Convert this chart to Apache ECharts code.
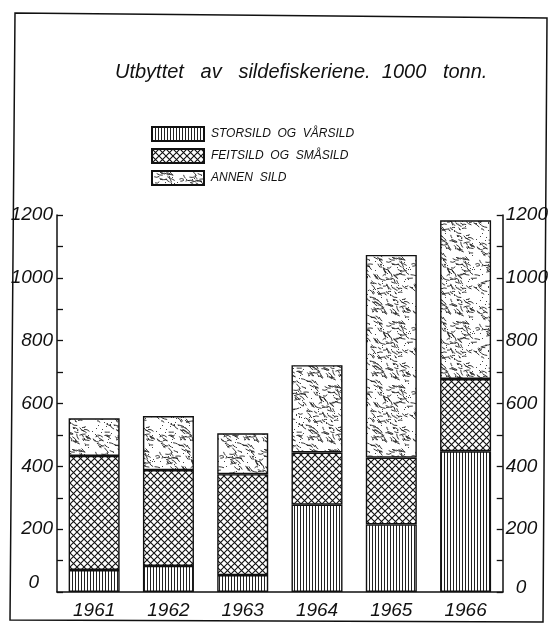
<!DOCTYPE html>
<html>
<head>
<meta charset="utf-8">
<script src="https://cdn.jsdelivr.net/npm/echarts@6/dist/echarts.min.js"></script>
<style>
  html, body { margin: 0; padding: 0; background: #fff; }
  #main { width: 551px; height: 624px; }
</style>
</head>
<body>
<div id="main"></div>
<script>
// 1000 tonn
const years = ['1961', '1962', '1963', '1964', '1965', '1966'];
const storsild = [70, 83, 54, 278, 215, 448];
const feitsild = [363, 305, 321, 166, 213, 230];
const annenSild = [120, 172, 130, 278, 645, 505];
const seriesNames = ['STORSILD  OG  VÅRSILD', 'FEITSILD  OG  SMÅSILD', 'ANNEN  SILD'];

const FONT = '"Liberation Sans", Arial, sans-serif';

// hatch: vertical lines
function stripePattern() {
  let c = document.createElement('canvas');
  c.width = 3; c.height = 8;
  let g = c.getContext('2d');
  g.fillStyle = '#fff';
  g.fillRect(0, 0, 3, 8);
  g.fillStyle = '#222';
  g.fillRect(0, 0, 1, 8);
  return c;
}

// cross hatch (diamonds)
function crossPattern() {
  let s = 7;
  let c = document.createElement('canvas');
  c.width = s; c.height = s;
  let g = c.getContext('2d');
  g.fillStyle = '#fff';
  g.fillRect(0, 0, s, s);
  g.strokeStyle = '#111';
  g.lineWidth = 1.1;
  g.beginPath();
  g.moveTo(-1, -1); g.lineTo(s + 1, s + 1);
  g.moveTo(s + 1, -1); g.lineTo(-1, s + 1);
  g.stroke();
  return c;
}

// short wiggly dashes, seeded so it is the same every time
function wigglePattern() {
  let s = 64;
  let c = document.createElement('canvas');
  c.width = s; c.height = s;
  let g = c.getContext('2d');
  g.fillStyle = '#fff';
  g.fillRect(0, 0, s, s);
  let seed = 98765;
  let rnd = function () {
    seed = (seed * 1103515245 + 12345) % 2147483648;
    return seed / 2147483648;
  };
  g.strokeStyle = '#222';
  g.lineWidth = 0.9;
  g.lineCap = 'round';
  for (let i = 0; i < 170; i++) {
    let x = rnd() * s, y = rnd() * s;
    let a = 0.5 + (rnd() - 0.5) * 1.6;
    let len = 2.5 + rnd() * 3.5;
    let dx = Math.cos(a) * len, dy = Math.sin(a) * len;
    let bend = (rnd() - 0.5) * 3;
    for (let ox = -s; ox <= s; ox += s) {
      for (let oy = -s; oy <= s; oy += s) {
        g.beginPath();
        g.moveTo(x + ox, y + oy);
        g.quadraticCurveTo(x + ox + dx / 2 - dy / len * bend, y + oy + dy / 2 + dx / len * bend, x + ox + dx, y + oy + dy);
        g.stroke();
      }
    }
  }
  for (let i = 0; i < 90; i++) {
    g.fillStyle = '#444';
    g.fillRect(Math.floor(rnd() * s), Math.floor(rnd() * s), 1, 1);
  }
  return c;
}

let chart = echarts.init(document.getElementById('main'), null, { renderer: 'canvas' });

function barSeries(name, data, pattern) {
  return {
    name: name,
    type: 'bar',
    stack: 'total',
    data: data,
    barWidth: 51,
    itemStyle: {
      color: { image: pattern, repeat: 'repeat' },
      borderColor: '#111',
      borderWidth: 1.4
    },
    emphasis: { disabled: true }
  };
}

let tickLabel = {
  color: '#111',
  fontSize: 19,
  fontStyle: 'italic',
  fontFamily: FONT
};

let option = {
  animation: false,
  backgroundColor: '#fff',
  title: {
    text: 'Utbyttet   av   sildefiskeriene.  1000   tonn.',
    left: 110,
    top: 57,
    textStyle: {
      color: '#111',
      fontSize: 20,
      fontWeight: 'normal',
      fontStyle: 'italic',
      fontFamily: FONT
    }
  },
  legend: {
    orient: 'vertical',
    left: 146,
    top: 121,
    itemWidth: 52,
    itemHeight: 14,
    itemGap: 6,
    icon: 'rect',
    data: seriesNames,
    textStyle: {
      color: '#111',
      fontSize: 12,
      fontStyle: 'italic',
      fontFamily: FONT,
      padding: [0, 0, 0, 2]
    }
  },
  grid: {
    left: 57,
    right: 46,
    top: 215,
    bottom: 32
  },
  xAxis: {
    type: 'category',
    data: years,
    axisLine: { lineStyle: { color: '#111', width: 1.5 } },
    axisTick: { show: false },
    axisLabel: Object.assign({ margin: 9 }, tickLabel, { fontSize: 19 })
  },
  yAxis: [
    {
      type: 'value',
      position: 'left',
      min: 0,
      max: 1200,
      interval: 100,
      splitLine: { show: false },
      axisLine: { show: true, lineStyle: { color: '#111', width: 1.5 } },
      axisTick: { show: true, inside: true, length: 6, lineStyle: { color: '#111', width: 1.3 } },
      axisLabel: Object.assign({
        margin: 4,
        formatter: function (v) {
          if (v === 0) return '{z|0}';
          return v % 200 === 0 ? String(v) : '';
        },
        rich: { z: { fontSize: 19, fontStyle: 'italic', fontFamily: FONT, color: '#111', padding: [0, 14, 18, 0] } }
      }, tickLabel)
    },
    {
      type: 'value',
      position: 'right',
      min: 0,
      max: 1200,
      interval: 100,
      splitLine: { show: false },
      axisLine: { show: true, lineStyle: { color: '#111', width: 1.5 } },
      axisTick: { show: true, inside: true, length: 6, lineStyle: { color: '#111', width: 1.3 } },
      axisLabel: Object.assign({
        margin: 3,
        formatter: function (v) {
          if (v === 0) return '{z|0}';
          return v % 200 === 0 ? String(v) : '';
        },
        rich: { z: { fontSize: 19, fontStyle: 'italic', fontFamily: FONT, color: '#111', padding: [0, 0, 8, 10] } }
      }, tickLabel)
    }
  ],
  graphic: [
    {
      type: 'polygon',
      shape: { points: [[15, 13], [547, 18], [543, 622], [10, 620]] },
      style: { fill: 'none', stroke: '#111', lineWidth: 1.5 },
      silent: true
    }
  ],
  series: [
    barSeries(seriesNames[0], storsild, stripePattern()),
    barSeries(seriesNames[1], feitsild, crossPattern()),
    barSeries(seriesNames[2], annenSild, wigglePattern())
  ]
};

chart.setOption(option);
</script>
</body>
</html>
